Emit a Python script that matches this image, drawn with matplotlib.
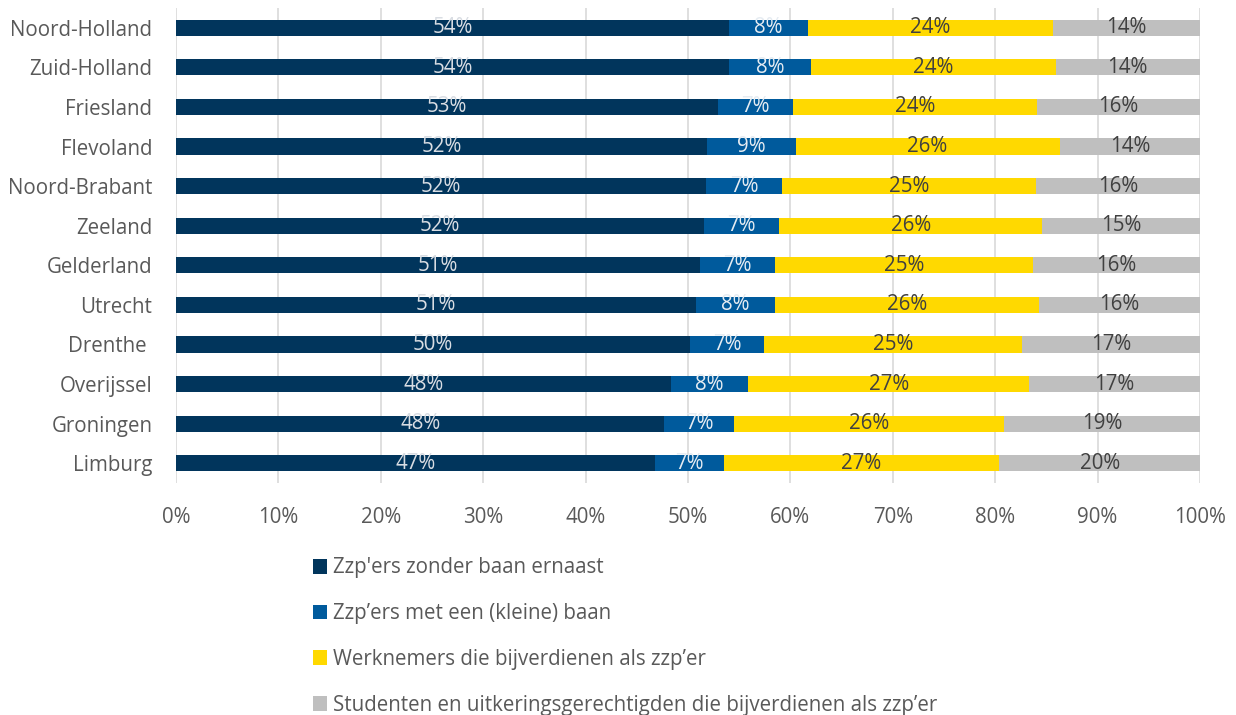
import numpy as np
import matplotlib
matplotlib.use('Agg')
import matplotlib.pyplot as plt

provinces = ['Noord-Holland', 'Zuid-Holland', 'Friesland', 'Flevoland', 'Noord-Brabant',
             'Zeeland', 'Gelderland', 'Utrecht', 'Drenthe ', 'Overijssel', 'Groningen', 'Limburg']

zonder_baan = [54.0, 54.0, 52.9, 51.9, 51.8, 51.6, 51.2, 50.8, 50.2, 48.3, 47.7, 46.8]
met_baan = [7.7, 8.0, 7.4, 8.6, 7.4, 7.3, 7.3, 7.7, 7.2, 7.6, 6.8, 6.7]
werknemers = [23.9, 23.9, 23.8, 25.8, 24.8, 25.7, 25.2, 25.8, 25.2, 27.4, 26.4, 26.9]
studenten = [14.4, 14.1, 15.9, 13.7, 16.0, 15.4, 16.3, 15.7, 17.4, 16.7, 19.1, 19.6]

series_names = ["Zzp'ers zonder baan ernaast", "Zzp\u2019ers met een (kleine) baan",
                "Werknemers die bijverdienen als zzp\u2019er",
                "Studenten en uitkeringsgerechtigden die bijverdienen als zzp\u2019er"]
ticks = [0, 10, 20, 30, 40, 50, 60, 70, 80, 90, 100]

colors = ['#01355c', '#005a9c', '#ffd900', '#bfbfbf']
label_colors = ['#d9dde3', '#e6ecf2', '#404040', '#404040']

plt.rcParams['font.family'] = ['Open Sans', 'DejaVu Sans']
txt = '#595959'
fs = 14.8

fig = plt.figure(figsize=(12.36, 7.15), dpi=100)
ax = fig.add_axes([176 / 1236, 1 - 483 / 715, 1024 / 1236, 475 / 715])

y = np.arange(len(provinces))
left = np.zeros(len(provinces))
for vals, name, col, lcol in zip([zonder_baan, met_baan, werknemers, studenten],
                                 series_names, colors, label_colors):
    vals = np.array(vals)
    bars = ax.barh(y, vals, left=left, height=0.41, color=col, label=name, zorder=2)
    ax.bar_label(bars, labels=[f'{v:.0f}%' for v in vals], label_type='center',
                 color=lcol, fontsize=fs, padding=0)
    left += vals

ax.set_xlim(0, 100)
ax.set_ylim(len(provinces) - 0.5, -0.5)
ax.set_yticks(y)
ax.set_yticklabels(provinces, fontsize=fs, color=txt)
ax.set_xticks(ticks)
ax.set_xticklabels([f'{t}%' for t in ticks], fontsize=fs, color=txt)
ax.tick_params(length=0)
ax.tick_params(axis='x', pad=17)
ax.tick_params(axis='y', pad=17)
ax.grid(axis='x', color='#d9d9d9', linewidth=1.2, zorder=0)
for s in ax.spines.values():
    s.set_visible(False)

fig.legend(loc='upper left', bbox_to_anchor=(294 / 1236, 1 - 539 / 715), ncol=1,
           frameon=False, fontsize=fs, labelcolor=txt, handlelength=0.7,
           handleheight=0.7, handletextpad=0.3, labelspacing=1.2)

fig.savefig('out.png', dpi=100)
